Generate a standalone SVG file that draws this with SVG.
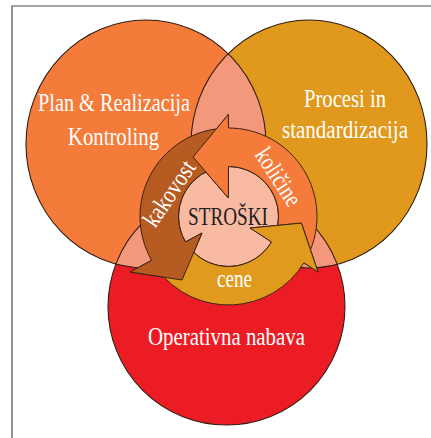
<svg xmlns="http://www.w3.org/2000/svg" width="431" height="438" viewBox="0 0 431 438">
  <defs>
    <style>
      .edge { fill: none; stroke: #2e1e14; stroke-width: 1.1; }
      .lbl { font-family: "Liberation Serif", "DejaVu Serif", serif; font-size: 25px; fill: #ffffff; text-anchor: middle; }
      .dark { fill: #231f20; font-size: 26px; }
      .arr { stroke: #3a2416; stroke-width: 1; stroke-linejoin: miter; }
      .head-edge { fill: none; stroke: #3a2416; stroke-width: 1; stroke-linejoin: miter; }
    </style>
    <clipPath id="clip-plan"><ellipse cx="146" cy="144" rx="120" ry="124"/></clipPath>
    <clipPath id="clip-procesi"><ellipse cx="309" cy="144" rx="118" ry="124"/></clipPath>
  </defs>

  <rect width="431" height="438" fill="#ffffff"/>
  <!-- page frame (top and left rules) -->
  <path d="M12,438 V6 H431" fill="none" stroke="#4d4d4d" stroke-width="1.2"/>

  <!-- three main areas -->
  <g id="plan-realizacija">
    <ellipse cx="146" cy="144" rx="120" ry="124" fill="#f47b3a"/>
    <text class="lbl" x="114" y="111" textLength="152" lengthAdjust="spacingAndGlyphs">Plan &amp; Realizacija</text>
    <text class="lbl" x="113.5" y="145" textLength="91" lengthAdjust="spacingAndGlyphs">Kontroling</text>
  </g>
  <g id="procesi-standardizacija">
    <ellipse cx="309" cy="144" rx="118" ry="124" fill="#e0991c"/>
    <text class="lbl" x="345" y="107" textLength="82" lengthAdjust="spacingAndGlyphs">Procesi in</text>
    <text class="lbl" x="345" y="138" textLength="126" lengthAdjust="spacingAndGlyphs">standardizacija</text>
  </g>
  <g id="operativna-nabava">
    <circle cx="226.5" cy="306.5" r="118.5" fill="#ec1c24"/>
    <text class="lbl" x="226.5" y="345" textLength="157" lengthAdjust="spacingAndGlyphs">Operativna nabava</text>
  </g>

  <!-- pairwise overlaps -->
  <g id="overlaps" fill="#f4987b">
    <ellipse cx="309" cy="144" rx="118" ry="124" clip-path="url(#clip-plan)"/>
    <circle cx="226.5" cy="306.5" r="118.5" clip-path="url(#clip-plan)"/>
    <circle cx="226.5" cy="306.5" r="118.5" clip-path="url(#clip-procesi)"/>
  </g>
  <g id="outlines">
    <ellipse class="edge" cx="146" cy="144" rx="120" ry="124"/>
    <ellipse class="edge" cx="309" cy="144" rx="118" ry="124"/>
    <circle class="edge" cx="226.5" cy="306.5" r="118.5"/>
  </g>

  <!-- central node -->
  <g id="stroski">
    <circle cx="228.5" cy="216.5" r="50" fill="#f9baa2" stroke="#3a2416" stroke-width="1"/>
    <text class="lbl dark" x="228" y="225" textLength="80" lengthAdjust="spacingAndGlyphs">STROŠKI</text>
  </g>

  <!-- cycle of three curved arrows around the centre -->
  <g id="connectors">
    <g id="arrow-kolicine">
      <path class="arr" fill="#f47b3a" d="M228.5,128 L228.3,114.5 L193,157 L228.3,198 L228.5,166.5 A50,50 0 0 1 273.44,238.42 L308.04,255.3 A88.5,88.5 0 0 0 228.5,128 Z"/>
    </g>
    <g id="arrow-kakovost">
      <path class="arr" fill="#b65b22" d="M220.79,128.34 A88.5,88.5 0 0 0 151.6,260.3 L130,272 L182,280 L202,233 L185.47,241.96 A50,50 0 0 1 224.14,166.69 Z"/>
    </g>
    <g id="arrow-cene">
      <path class="arr" fill="#e09a1d" d="M157.82,269.76 A88.5,88.5 0 0 0 303.88,262.87 L318,272 L301.4,223.1 L250,228 L271.54,241.94 A50,50 0 0 1 188.57,246.59 Z"/>
    </g>
    <!-- heads laid over the tails of the following arrows -->
    <g id="arrow-heads">
      <polygon fill="#f47b3a" points="228.3,114.5 193,157 228.3,198"/>
      <path class="head-edge" d="M228.5,128 L228.3,114.5 L193,157 L228.3,198 L228.5,166.5"/>
      <polygon fill="#b65b22" points="130,272 182,280 202,233"/>
      <path class="head-edge" d="M151.6,260.3 L130,272 L182,280 L202,233 L185.47,241.96"/>
      <polygon fill="#e09a1d" points="318,272 301.4,223.1 250,228"/>
      <path class="head-edge" d="M303.88,262.87 L318,272 L301.4,223.1 L250,228 L271.54,241.94"/>
    </g>
    <text class="lbl" transform="translate(176,198) rotate(-56)" textLength="74" lengthAdjust="spacingAndGlyphs">kakovost</text>
    <text class="lbl" transform="translate(271.6,181.3) rotate(57)" textLength="64" lengthAdjust="spacingAndGlyphs">količine</text>
    <text class="lbl" x="234.5" y="287" textLength="35" lengthAdjust="spacingAndGlyphs">cene</text>
  </g>
</svg>
